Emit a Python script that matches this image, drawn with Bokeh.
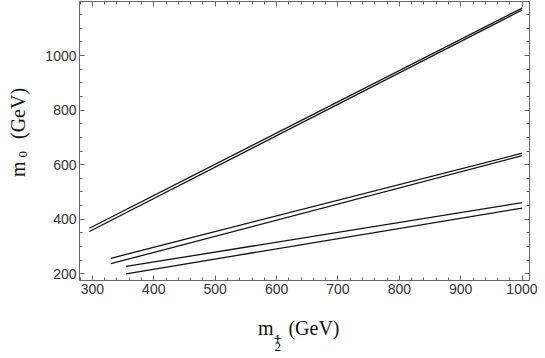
import numpy as np
from bokeh.plotting import figure
from bokeh.layouts import row, column
from bokeh.models import LinearAxis, FixedTicker, Range1d, CustomJSTickFormatter
from bokeh.core.properties import value
from bokeh.embed import file_html
from bokeh.resources import INLINE

# ---- data ----
m_half_start = [295, 295, 330, 330, 355, 355]
m_half_end = [1000, 1000, 1000, 1000, 1000, 1000]
m0_start = [367, 355, 257, 237, 227, 200]
m0_end = [1174, 1167, 642, 633, 461, 441]

x_ticks = [300, 400, 500, 600, 700, 800, 900, 1000]
x_minor = list(range(280, 1013, 20))
y_ticks = [200, 400, 600, 800, 1000]
y_minor = list(range(200, 1198, 50))

X0, X1 = 279, 1012
Y0, Y1 = 175.5, 1198

# page layout (px)
TOTAL_W, TOTAL_H = 537, 358
LEFT_W = 34              # strip holding the rotated y title
MAIN_H = 310             # main figure height
FRAME_L, FRAME_R, FRAME_T, FRAME_B = 79, 529, 1, 280

MAIN_W = TOTAL_W - LEFT_W
BOT_H = TOTAL_H - MAIN_H

p = figure(width=MAIN_W, height=MAIN_H, x_range=Range1d(X0, X1), y_range=Range1d(Y0, Y1),
           output_backend="svg", toolbar_location=None, x_axis_type=None, y_axis_type=None,
           min_border_left=FRAME_L - LEFT_W, min_border_right=TOTAL_W - FRAME_R,
           min_border_top=FRAME_T, min_border_bottom=MAIN_H - FRAME_B)
p.outline_line_color = None
p.background_fill_color = "white"
p.border_fill_color = "white"
p.xgrid.visible = False
p.ygrid.visible = False

AX_COL = "#666666"
LAB_COL = "#333333"
empty = CustomJSTickFormatter(code="return ''")

def style(ax, labels=True):
    ax.axis_line_color = AX_COL
    ax.axis_line_width = 1
    ax.major_tick_line_color = AX_COL
    ax.minor_tick_line_color = AX_COL
    ax.major_tick_in = 5
    ax.major_tick_out = 0
    ax.minor_tick_in = 3
    ax.minor_tick_out = 0
    ax.major_label_standoff = 3
    ax.major_label_text_font = "Liberation Sans"
    ax.major_label_text_font_size = "14px"
    ax.major_label_text_color = LAB_COL
    if not labels:
        ax.formatter = empty
        ax.major_label_text_font_size = "0px"
        ax.major_label_standoff = 0

xt = FixedTicker(ticks=x_ticks, minor_ticks=x_minor)
yt = FixedTicker(ticks=y_ticks, minor_ticks=y_minor)

bx = LinearAxis(ticker=xt); style(bx)
lx = LinearAxis(ticker=yt); style(lx)
tx = LinearAxis(ticker=xt); style(tx, False)
rx = LinearAxis(ticker=yt); style(rx, False)
p.add_layout(bx, "below")
p.add_layout(lx, "left")
p.add_layout(tx, "above")
p.add_layout(rx, "right")

p.segment(x0=m_half_start, y0=m0_start, x1=m_half_end, y1=m0_end,
          line_color="#111111", line_width=1.3)


def text_strip(w, h):
    f = figure(width=w, height=h, x_range=Range1d(0, w), y_range=Range1d(0, h),
               output_backend="svg", toolbar_location=None, x_axis_type=None, y_axis_type=None,
               min_border=0, min_border_left=0, min_border_right=0,
               min_border_top=0, min_border_bottom=0)
    f.outline_line_color = None
    f.xgrid.visible = False
    f.ygrid.visible = False
    f.background_fill_color = "white"
    f.border_fill_color = "white"
    return f

SERIF = value("Liberation Serif")
TXT_COL = "#111111"

# ---- x-axis title strip: m_{1/2} (GeV) ----
DXB, DYB = -19, -2   # empirical correction
pb = text_strip(MAIN_W, BOT_H)
def bx_(px): return px - LEFT_W + DXB
def by_(py): return TOTAL_H - py - DYB

def btext(px, py, s, size, align="left"):
    pb.text(x=[bx_(px)], y=[by_(py)], text=[s], text_font=SERIF, text_font_size=size,
            text_align=align, text_baseline="alphabetic", text_color=TXT_COL)

btext(252.5, 329, "m", "20px")
btext(274.3, 340.3, "1", "13px", align="center")
pb.segment(x0=[bx_(271.0)], y0=[by_(339.8)], x1=[bx_(277.8)], y1=[by_(339.8)],
           line_color=TXT_COL, line_width=1)
btext(274.5, 348.5, "2", "13px", align="center")
btext(286.5, 329, "(GeV)", "20px")

# ---- y-axis title strip: m_0 (GeV), rotated ----
DXL = -6
pl = text_strip(LEFT_W, TOTAL_H)
A = np.pi / 2
def ltext(px, py, s, size):
    pl.text(x=[px + DXL], y=[TOTAL_H - py], text=[s], text_font=SERIF, text_font_size=size,
            text_align="left", text_baseline="alphabetic", angle=A, text_color=TXT_COL)

ltext(23.5, 176.5, "m", "20px")
ltext(28.5, 157, "0", "13px")
ltext(23.5, 138.5, "(GeV)", "20px")

layout = row(pl, column(p, pb, spacing=0), spacing=0)
open("out.html", "w").write(file_html(layout, INLINE))
